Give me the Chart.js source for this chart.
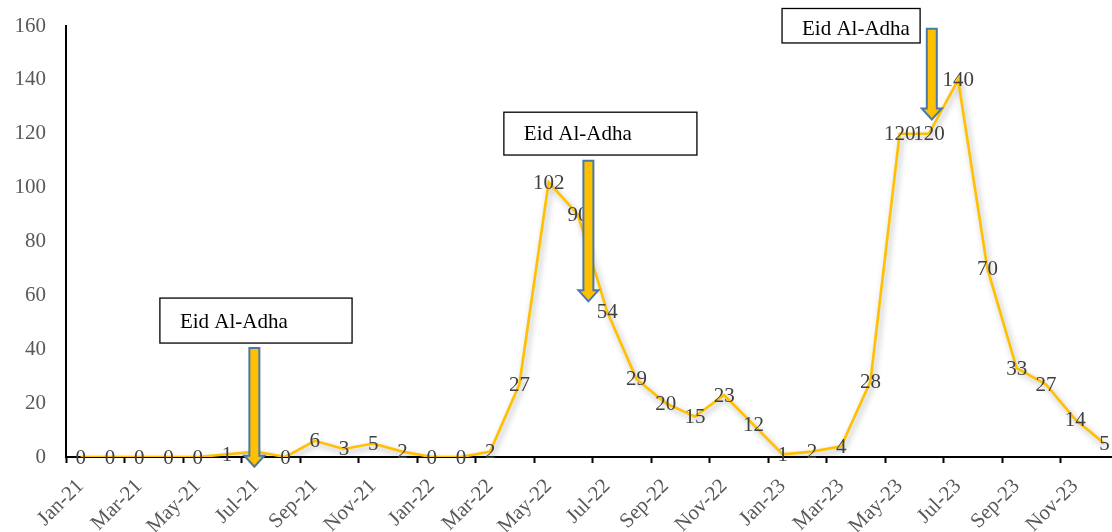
<!DOCTYPE html>
<html>
<head>
<meta charset="utf-8">
<script src="https://cdn.jsdelivr.net/npm/chart.js@4.4.1/dist/chart.umd.min.js"></script>
<style>
  html, body { margin: 0; padding: 0; background: #fff; overflow: hidden; }
  #wrap { width: 1112px; height: 532px; overflow: hidden; position: relative; }
  #c { display: block; }
</style>
</head>
<body>
<div id="wrap"><canvas id="c" width="1120" height="532"></canvas></div>
<script>
// Monthly case counts, Jan 2021 – Dec 2023
const months = [
  'Jan-21','Feb-21','Mar-21','Apr-21','May-21','Jun-21','Jul-21','Aug-21','Sep-21','Oct-21','Nov-21','Dec-21',
  'Jan-22','Feb-22','Mar-22','Apr-22','May-22','Jun-22','Jul-22','Aug-22','Sep-22','Oct-22','Nov-22','Dec-22',
  'Jan-23','Feb-23','Mar-23','Apr-23','May-23','Jun-23','Jul-23','Aug-23','Sep-23','Oct-23','Nov-23','Dec-23'
];
const cases = [
  0, 0, 0, 0, 0, 1, 2, 0, 6, 3, 5, 2,
  0, 0, 2, 27, 102, 90, 54, 29, 20, 15, 23, 12,
  1, 2, 4, 28, 120, 120, 140, 70, 33, 27, 14, 5
];
const yMin = 0;
const yMax = 160;
const yStep = 20;

// Eid Al-Adha callouts: text boxes and down arrows, placed in axis units
const eidText = 'Eid Al-Adha';
const eidBoxes = [
  { x0: 2.71, x1: 9.28, yTop: 59, yBottom: 42.3, dy: 2 },
  { x0: 14.47, x1: 21.07, yTop: 128, yBottom: 112.1, dy: 1 },
  { x0: 23.98, x1: 28.70, yTop: 166.5, yBottom: 153.7, dy: 4 }
];
const eidArrows = [
  { x: 5.94, yTop: 40.5, yTip: -3.6 },
  { x: 17.36, yTop: 110, yTip: 57.8 },
  { x: 29.10, yTop: 159, yTip: 125.3 }
];

const SERIF = '"Liberation Serif", "DejaVu Serif", serif';

// soft drop shadow under the line
const lineShadow = {
  id: 'lineShadow',
  beforeDatasetDraw(chart) {
    const ctx = chart.ctx;
    ctx.save();
    ctx.shadowColor = 'rgba(0,0,0,0.32)';
    ctx.shadowBlur = 6;
    ctx.shadowOffsetX = 2;
    ctx.shadowOffsetY = 3;
  },
  afterDatasetDraw(chart) {
    chart.ctx.restore();
  }
};

// value labels centred on each point
const valueLabels = {
  id: 'valueLabels',
  afterDatasetsDraw(chart) {
    const ctx = chart.ctx;
    const meta = chart.getDatasetMeta(0);
    ctx.save();
    ctx.font = '21px ' + SERIF;
    ctx.fillStyle = '#404040';
    ctx.textAlign = 'center';
    ctx.textBaseline = 'middle';
    meta.data.forEach((pt, i) => {
      ctx.fillText(String(cases[i]), pt.x, pt.y + 1);
    });
    ctx.restore();
  }
};

// callout boxes and arrows
const eidCallouts = {
  id: 'eidCallouts',
  afterDraw(chart) {
    const ctx = chart.ctx;
    const xs = chart.scales.x, ys = chart.scales.y;
    ctx.save();
    eidBoxes.forEach(b => {
      const l = xs.getPixelForValue(b.x0), r = xs.getPixelForValue(b.x1);
      const t = ys.getPixelForValue(b.yTop), btm = ys.getPixelForValue(b.yBottom);
      ctx.fillStyle = '#ffffff';
      ctx.fillRect(l, t, r - l, btm - t);
      ctx.strokeStyle = '#000000';
      ctx.lineWidth = 1.3;
      ctx.strokeRect(l, t, r - l, btm - t);
      ctx.font = '21px ' + SERIF;
      ctx.fillStyle = '#000000';
      ctx.textAlign = 'left';
      ctx.textBaseline = 'middle';
      ctx.fillText(eidText, l + 20, (t + btm) / 2 + b.dy);
    });
    eidArrows.forEach(a => {
      const cx = xs.getPixelForValue(a.x);
      const top = ys.getPixelForValue(a.yTop);
      const tip = ys.getPixelForValue(a.yTip);
      const shaftHalf = 5, headHalf = 10, headLen = 11;
      ctx.beginPath();
      ctx.moveTo(cx - shaftHalf, top);
      ctx.lineTo(cx + shaftHalf, top);
      ctx.lineTo(cx + shaftHalf, tip - headLen);
      ctx.lineTo(cx + headHalf, tip - headLen);
      ctx.lineTo(cx, tip);
      ctx.lineTo(cx - headHalf, tip - headLen);
      ctx.lineTo(cx - shaftHalf, tip - headLen);
      ctx.closePath();
      ctx.fillStyle = '#FFC000';
      ctx.fill();
      ctx.strokeStyle = '#4A78A8';
      ctx.lineWidth = 2;
      ctx.lineJoin = 'miter';
      ctx.stroke();
    });
    ctx.restore();
  }
};

// drop the automatic label-overflow padding so the plot area is set by layout.padding
function noOverflow(scale) {
  scale.paddingLeft = 0;
  scale.paddingRight = 0;
  scale.paddingTop = 0;
  scale.paddingBottom = 0;
}

new Chart(document.getElementById('c'), {
  type: 'line',
  data: {
    labels: months,
    datasets: [{
      data: cases,
      borderColor: '#FFC000',
      borderWidth: 2.6,
      pointRadius: 0,
      tension: 0,
      fill: false
    }]
  },
  options: {
    responsive: false,
    animation: false,
    devicePixelRatio: 1,
    layout: { padding: { top: 26, right: 1, left: 0, bottom: 0 } },
    plugins: { legend: { display: false }, tooltip: { enabled: false } },
    scales: {
      x: {
        type: 'category',
        offset: true,
        afterFit(scale) { scale.height = 75; noOverflow(scale); },
        grid: {
          offset: true,
          drawOnChartArea: false,
          drawTicks: true,
          tickLength: 6,
          tickWidth: 2,
          tickColor: ctx => (ctx.index % 2 === 0 ? '#000000' : 'rgba(0,0,0,0)')
        },
        border: { display: true, color: '#000000', width: 2 },
        ticks: {
          autoSkip: false,
          maxRotation: 45,
          minRotation: 45,
          padding: 11,
          color: '#595959',
          font: { family: SERIF, size: 21 },
          callback: (v, i) => (i % 2 === 0 ? months[i] : '')
        }
      },
      y: {
        min: yMin,
        max: yMax,
        afterFit(scale) { scale.width = 66; noOverflow(scale); },
        grid: { display: false, drawTicks: false },
        border: { display: true, color: '#000000', width: 2 },
        ticks: {
          stepSize: yStep,
          padding: 20,
          color: '#595959',
          font: { family: SERIF, size: 21 }
        }
      }
    }
  },
  plugins: [lineShadow, valueLabels, eidCallouts]
});
</script>
</body>
</html>
